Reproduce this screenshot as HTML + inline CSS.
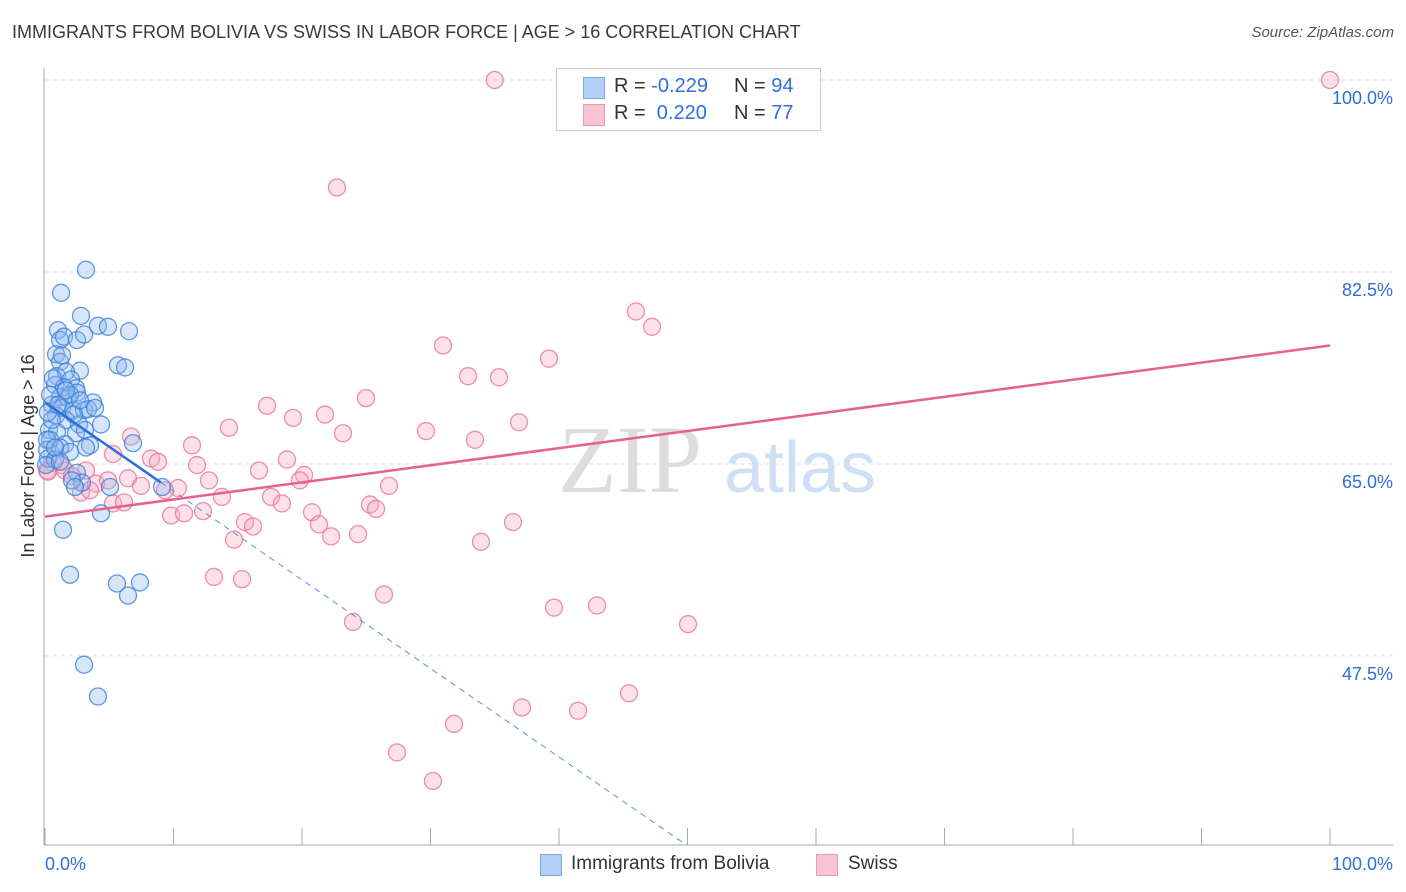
<!DOCTYPE html>
<html><head><meta charset="utf-8"><style>
body{margin:0;background:#fff;font-family:"Liberation Sans",sans-serif;}
#wrap{position:relative;width:1406px;height:892px;overflow:hidden;}
.t{position:absolute;white-space:nowrap;}
</style></head><body>
<div id="wrap">
<div class="t" style="left:12px;top:22px;font-size:18px;color:#3a3a3a;">IMMIGRANTS FROM BOLIVIA VS SWISS IN LABOR FORCE | AGE &gt; 16 CORRELATION CHART</div>
<div class="t" style="right:12px;top:24px;font-size:15px;color:#555;font-style:italic;">Source: ZipAtlas.com</div>
<svg id="svg" width="1406" height="892" style="position:absolute;left:0;top:0">
<text x="630" y="492" font-size="96" fill="#ddd" font-family="Liberation Serif" text-anchor="middle">ZIP</text>
<text x="800" y="492" font-size="72" fill="#cfe0f5" font-family="Liberation Sans" text-anchor="middle">atlas</text>
<text transform="translate(34,456) rotate(-90)" font-size="18" fill="#333" text-anchor="middle">In Labor Force | Age &gt; 16</text>
</svg>
<div style="position:absolute;left:556px;top:68px;width:263px;height:61px;border:1px solid #ccc;background:#fff;font-size:20px;color:#333;">
<div style="position:absolute;left:26px;top:8px;width:20px;height:20px;background:#b3cff5;border:1px solid #7aa8e8"></div>
<div class="t" style="left:57px;top:6px">R = <span style="color:#2f6fd6">-0.229</span></div>
<div class="t" style="left:177px;top:6px">N = <span style="color:#2f6fd6">94</span></div>
<div style="position:absolute;left:26px;top:35px;width:20px;height:20px;background:#f8c3d3;border:1px solid #ee9ab5"></div>
<div class="t" style="left:57px;top:33px">R = &nbsp;<span style="color:#2f6fd6">0.220</span></div>
<div class="t" style="left:177px;top:33px">N = <span style="color:#2f6fd6">77</span></div>
</div>
<div>
<div style="position:absolute;left:540px;top:854px;width:20px;height:20px;background:#b3cff5;border:1px solid #7aa8e8"></div>
<div class="t" style="left:571px;top:853px;font-size:19px;color:#333">Immigrants from Bolivia</div>
<div style="position:absolute;left:816px;top:854px;width:20px;height:20px;background:#f8c3d3;border:1px solid #ee9ab5"></div>
<div class="t" style="left:848px;top:853px;font-size:19px;color:#333">Swiss</div>
</div>
</div>
<script>
const blueX=[3.19,1.25,2.80,1.01,4.12,4.90,6.54,1.17,1.48,2.49,3.04,0.86,1.17,5.68,6.23,2.72,0.93,1.63,2.02,0.78,1.48,2.41,1.17,1.79,2.49,3.74,0.54,1.32,2.18,3.04,3.35,0.86,1.63,2.65,4.36,0.31,0.93,2.41,0.39,1.56,3.50,6.85,0.16,1.17,1.95,3.19,0.23,0.78,0.08,1.17,2.49,2.88,2.10,2.33,5.06,9.11,4.36,1.40,1.95,5.60,7.39,6.46,3.04,4.12,0.54,0.39,0.23,0.62,1.32,1.95,2.26,3.11,0.16,1.01,1.63,2.72,3.89,0.78];
const blueY=[82.7,80.6,78.5,77.2,77.6,77.5,77.1,76.3,76.6,76.3,76.8,75.0,74.3,74.0,73.8,73.5,73.0,73.4,72.7,72.2,72.0,71.9,71.1,71.0,71.5,70.6,70.4,70.1,69.9,69.9,70.0,69.4,69.0,68.6,68.6,68.1,67.9,67.8,67.2,66.8,66.7,66.9,66.3,66.5,66.1,66.5,65.5,65.4,64.9,65.2,64.2,63.3,63.5,62.9,62.9,62.9,60.5,59.0,54.9,54.1,54.2,53.0,46.7,43.8,69.0,71.3,69.7,72.8,74.9,71.3,69.5,68.1,67.2,70.4,71.7,70.8,70.1,66.5];
const pinkX=[35.0,100,22.72,45.99,47.24,30.97,39.22,32.92,35.33,24.98,17.28,19.30,21.79,36.89,14.32,23.19,29.65,33.46,6.69,11.44,8.25,8.79,5.29,11.83,18.83,16.65,3.19,1.32,0.62,0.16,20.16,19.84,1.56,2.10,6.46,7.47,10.35,12.76,26.77,13.77,17.59,18.44,5.29,2.80,6.15,3.97,9.81,10.82,12.30,20.78,25.29,25.76,21.32,15.56,16.19,22.26,24.36,33.93,36.42,14.71,13.15,15.33,26.38,39.61,42.96,23.97,50.04,45.45,37.12,41.48,31.83,27.39,30.19,3.50,9.34,0.23,4.90];
const pinkY=[100,100,90.2,78.9,77.5,75.8,74.6,73.0,72.9,71.0,70.3,69.2,69.5,68.8,68.3,67.8,68.0,67.2,67.5,66.7,65.5,65.2,65.9,64.9,65.4,64.4,64.4,64.9,65.1,64.4,64.0,63.5,64.4,63.9,63.7,63.0,62.8,63.5,63.0,62.0,62.0,61.4,61.4,62.4,61.5,63.2,60.3,60.5,60.7,60.6,61.3,60.9,59.5,59.7,59.3,58.4,58.6,57.9,59.7,58.1,54.7,54.5,53.1,51.9,52.1,50.6,50.4,44.1,42.8,42.5,41.3,38.7,36.1,62.6,62.6,64.3,63.5];
const yTicks=[100,82.5,65,47.5];
const yTickLabels=["100.0%","82.5%","65.0%","47.5%"];
const xTickLabels=["0.0%","100.0%"];
const blueTrend=[70.6,-0.808]; // intercept, slope
const pinkTrend=[60.2,0.156];
const NS="http://www.w3.org/2000/svg";
const svg=document.getElementById('svg');
const X=v=>45+v*12.85;
const Y=v=>80+(100-v)*10.97;
function mk(tag,attrs){const e=document.createElementNS(NS,tag);for(const k in attrs)e.setAttribute(k,attrs[k]);svg.appendChild(e);return e;}
yTicks.forEach((t,i)=>{
 const g=mk('line',{x1:45,x2:1393,y1:Y(t),y2:Y(t),stroke:'#ddd','stroke-dasharray':'4,4'});
 
 
 const l=mk('text',{x:1393,y:Y(t)+24,'font-size':18,fill:'#2f6fd6','text-anchor':'end'});
 l.textContent=yTickLabels[i];
 
 
});
const ax=mk('line',{x1:44,x2:44,y1:68,y2:845,stroke:'#aaa'});


const bx=mk('line',{x1:44,x2:1393,y1:845,y2:845,stroke:'#aaa'});


for(let k=0;k<=10;k++){
 const tk=mk('line',{x1:X(k*10),x2:X(k*10),y1:828,y2:845,stroke:'#aaa'});
 
 
}
[[0,'start'],[100,'end']].forEach((p,i)=>{
 const l=mk('text',{x:i?X(p[0])+63:X(p[0]),y:870,'font-size':18,fill:'#2f6fd6','text-anchor':p[1]});
 l.textContent=xTickLabels[i];
 
 
});
function dots(xs,ys,fill,stroke,name){xs.forEach((x,i)=>{
 const c=mk('circle',{cx:X(x),cy:Y(ys[i]),r:8.5,fill:fill,'fill-opacity':0.35,stroke:stroke,'stroke-width':1.3,'stroke-opacity':0.8});
 
 
});}
dots(pinkX,pinkY,'#f6a9c0','#e9739a','swiss-point');
dots(blueX,blueY,'#8db8ee','#3b7fdc','bolivia-point');
const bs=mk('line',{x1:X(0),y1:Y(blueTrend[0]),x2:X(9),y2:Y(blueTrend[0]+blueTrend[1]*9),stroke:'#2c6fd6','stroke-width':2.5});


const bd=mk('line',{x1:X(9),y1:Y(blueTrend[0]+blueTrend[1]*9),x2:X(49.9),y2:Y(blueTrend[0]+blueTrend[1]*49.9),stroke:'#5a8fdc','stroke-width':1,'stroke-dasharray':'6,5'});


const pt=mk('line',{x1:X(0),y1:Y(pinkTrend[0]),x2:X(100),y2:Y(pinkTrend[0]+pinkTrend[1]*100),stroke:'#e5628c','stroke-width':2.5});


</script>
</body></html>
